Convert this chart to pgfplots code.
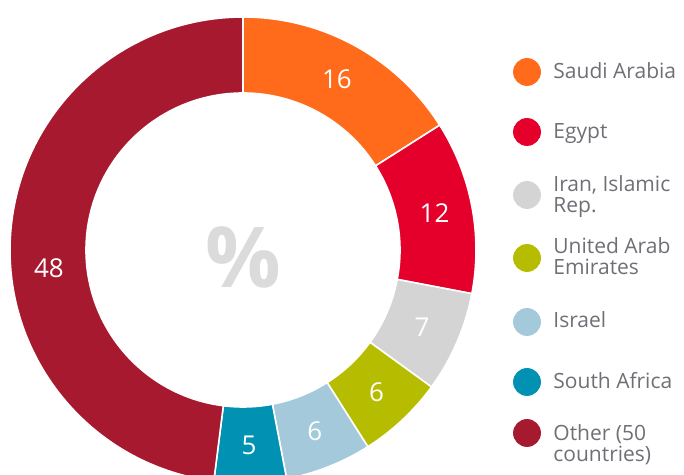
\documentclass[border=0pt]{standalone}
\usepackage{pgfplots}
\pgfplotsset{compat=1.18}
\usepackage{pgfplotstable}
\usepackage{fontspec}
\setmainfont{Open Sans}

\definecolor{c0}{HTML}{FF6A1B}
\definecolor{c1}{HTML}{E4002B}
\definecolor{c2}{HTML}{D4D4D4}
\definecolor{c3}{HTML}{B6BD00}
\definecolor{c4}{HTML}{A3C9DA}
\definecolor{c5}{HTML}{0091B3}
\definecolor{c6}{HTML}{A6192E}
\definecolor{legtext}{HTML}{6F6F76}

% share in percent, clockwise from 12 o'clock; shift moves the number label (deg)
\pgfplotstableread{
value shift
16 0
12 0
7  0
6  0
6  0
5  0
48 9
}\shares

% geometry in pixel units: centre, outer, inner and label radius
\def\cx{243}\def\cy{-250}\def\ro{233}\def\ri{157}\def\rl{195}

\def\cum{90}
\foreach \i in {0,...,6}{%
  \pgfplotstablegetelem{\i}{value}\of\shares
  \let\val\pgfplotsretval
  \pgfplotstablegetelem{\i}{shift}\of\shares
  \let\shf\pgfplotsretval
  \pgfmathsetmacro\angA{\cum}
  \pgfmathsetmacro\angB{\cum-3.6*\val}
  \pgfmathsetmacro\angM{(\angA+\angB)/2+\shf}
  \expandafter\xdef\csname sa\i\endcsname{\angA}
  \expandafter\xdef\csname sb\i\endcsname{\angB}
  \expandafter\xdef\csname sm\i\endcsname{\angM}
  \expandafter\xdef\csname sv\i\endcsname{\val}
  \global\let\cum\angB
}

\begin{document}
\begin{tikzpicture}
\begin{axis}[
  x=0.5pt, y=0.5pt,
  xmin=0, xmax=684, ymin=-475, ymax=0,
  axis line style={draw=none},
  xtick=\empty, ytick=\empty,
  clip=true,
]
\pgfplotsinvokeforeach{0,...,6}{%
  \fill[c#1, draw=white, line width=0.8pt]
    (axis cs:{\cx+\ro*cos(\csname sa#1\endcsname)},{\cy+\ro*sin(\csname sa#1\endcsname)})
    arc[start angle=\csname sa#1\endcsname, end angle=\csname sb#1\endcsname, radius=116.5pt]
    -- (axis cs:{\cx+\ri*cos(\csname sb#1\endcsname)},{\cy+\ri*sin(\csname sb#1\endcsname)})
    arc[start angle=\csname sb#1\endcsname, end angle=\csname sa#1\endcsname, radius=78.5pt]
    -- cycle;
  \node[text=white, font=\fontsize{13}{13}\selectfont]
    at (axis cs:{\cx+\rl*cos(\csname sm#1\endcsname)},{\cy+\rl*sin(\csname sm#1\endcsname)})
    {\csname sv#1\endcsname};
}
\node[text=black!14, font=\fontsize{42}{42}\selectfont\bfseries] at (axis cs:243,-257) {\%};

% legend
\addplot[only marks, mark=*, mark size=6.75pt, color=c0] coordinates {(527,-72)};
\addplot[only marks, mark=*, mark size=6.75pt, color=c1] coordinates {(527,-132)};
\addplot[only marks, mark=*, mark size=6.75pt, color=c2] coordinates {(527,-195)};
\addplot[only marks, mark=*, mark size=6.75pt, color=c3] coordinates {(527,-258)};
\addplot[only marks, mark=*, mark size=6.75pt, color=c4] coordinates {(527,-322)};
\addplot[only marks, mark=*, mark size=6.75pt, color=c5] coordinates {(527,-382)};
\addplot[only marks, mark=*, mark size=6.75pt, color=c6] coordinates {(527,-433)};
% base anchor of a two-line node is the baseline of its last line
\tikzset{leg/.style={anchor=base west, inner sep=0pt, text=legtext, align=left,
  font=\fontsize{10.5}{10.5}\selectfont}}
\node[leg] at (axis cs:553,-79) {Saudi Arabia};
\node[leg] at (axis cs:553,-139) {Egypt};
\node[leg] at (axis cs:553,-213) {Iran, Islamic\\Rep.};
\node[leg] at (axis cs:553,-275) {United Arab\\Emirates};
\node[leg] at (axis cs:553,-328) {Israel};
\node[leg] at (axis cs:553,-389) {South Africa};
\node[leg] at (axis cs:553,-462) {Other (50\\countries)};
\end{axis}
\end{tikzpicture}
\end{document}
